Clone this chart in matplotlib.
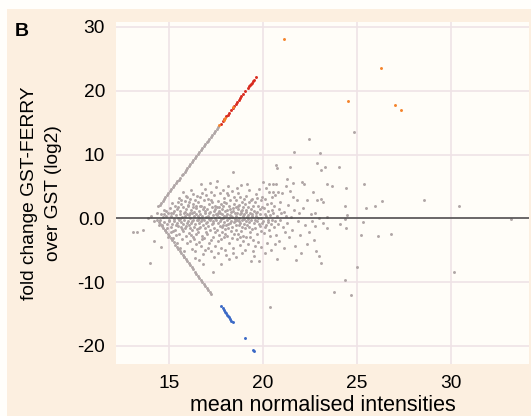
import numpy as np
import matplotlib
matplotlib.use('Agg')
import matplotlib.pyplot as plt
from matplotlib.patches import Rectangle

plt.rcParams['font.family'] = ['Liberation Sans', 'DejaVu Sans']

GREY = '#b0a6a6'
RED = '#d92b1f'
ORANGE = '#f5832b'
BLUE = '#3b69c6'
BEIGE = '#fcefe0'
PANEL = '#fffdf8'
GRID = '#efe3e6'

# ---- data: mean normalised intensity (x) vs log2 fold change (y) ----

# proteins seen only in GST-FERRY (upper diagonal)
up_line_x = [14.43, 14.50, 14.58, 14.66, 14.74, 14.81, 14.89, 14.97, 15.05, 15.12,
             15.20, 15.28, 15.36, 15.44, 15.51, 15.59, 15.67, 15.75, 15.83, 15.90,
             15.98, 16.06, 16.14, 16.22, 16.29, 16.37, 16.45, 16.53, 16.61, 16.68,
             16.76, 16.84, 16.92, 17.00, 17.07, 17.15, 17.23, 17.31, 17.39, 17.46,
             17.54, 17.62]
up_line_y = [1.87, 2.14, 2.46, 2.77, 3.08, 3.35, 3.66, 3.98, 4.29, 4.56,
             4.87, 5.19, 5.50, 5.81, 6.08, 6.39, 6.71, 7.02, 7.33, 7.60,
             7.92, 8.23, 8.54, 8.85, 9.12, 9.44, 9.75, 10.06, 10.37, 10.65,
             10.96, 11.27, 11.58, 11.89, 12.17, 12.48, 12.79, 13.10, 13.41, 13.69,
             14.00, 14.31]

# proteins seen only in GST (lower diagonal)
down_line_x = [14.38, 14.46, 14.54, 14.62, 14.70, 14.78, 14.86, 14.94, 15.02, 15.10,
               15.18, 15.26, 15.34, 15.42, 15.50, 15.58, 15.66, 15.74, 15.82, 15.90,
               15.98, 16.06, 16.14, 16.22, 16.30, 16.38, 16.46, 16.54, 16.62, 16.70,
               16.78, 16.86, 16.94, 17.02, 17.10, 17.18, 17.25]
down_line_y = [-0.20, -0.53, -0.85, -1.18, -1.51, -1.83, -2.16, -2.48, -2.81, -3.14,
               -3.46, -3.79, -4.12, -4.44, -4.77, -5.10, -5.42, -5.75, -6.08, -6.40,
               -6.73, -7.05, -7.38, -7.71, -8.03, -8.36, -8.69, -9.01, -9.34, -9.67,
               -9.99, -10.32, -10.64, -10.97, -11.30, -11.62, -11.91]

# significant hits
red_x = [17.75, 17.85, 17.95, 18.05, 18.12, 18.20, 18.30, 18.38, 18.48, 18.56,
         18.62, 18.70, 18.78, 18.85, 18.95, 19.05, 19.20, 19.26, 19.30, 19.35,
         19.40, 19.45, 19.50, 19.63]
red_y = [14.82, 15.21, 15.60, 15.99, 16.26, 16.57, 16.96, 17.28, 17.67, 17.98,
         18.21, 18.52, 18.84, 19.11, 19.50, 19.89, 20.47, 20.71, 20.86, 21.06,
         21.25, 21.45, 21.64, 22.15]
orange_x = [17.68, 17.90, 18.00, 18.42, 21.10, 26.26, 24.54, 27.04, 27.36]
orange_y = [14.55, 15.40, 15.79, 17.43, 28.10, 23.50, 18.40, 17.80, 17.00]
blue_x = [17.78, 17.86, 17.93, 18.00, 18.05, 18.10, 18.14, 18.20, 18.26, 18.32,
          18.38, 19.04, 19.45, 19.53]
blue_y = [-13.76, -14.10, -14.40, -14.65, -14.90, -15.10, -15.30, -15.55, -15.80, -16.05,
          -16.30, -18.80, -20.60, -20.85]

# proteins quantified in both pull-downs, grouped by intensity
cloud_13_15 = [(13.10, -2.2), (13.28, -2.2), (13.63, -1.9), (13.99, -7.05), (13.90, 0.05),
               (14.22, -3.5), (14.35, 0.8), (14.20, -0.4), (14.05, 0.3), (14.45, -1.0),
               (14.52, -0.3), (14.58, 0.6), (14.63, -1.1), (14.67, 0.2), (14.71, 1.3),
               (14.74, -0.6), (14.79, -1.9), (14.82, 1.2), (14.86, 0.4), (14.90, -0.9),
               (14.93, -3.0), (14.96, 0.9), (14.98, -0.2), (14.57, -4.5), (14.88, -1.5),
               (14.75, 0.7)]
cloud_15_16 = [(15.02, -0.5), (15.05, 1.6), (15.08, -1.4), (15.10, 0.3), (15.13, -2.2),
               (15.15, 2.4), (15.18, -0.9), (15.20, 0.8), (15.23, -3.1), (15.25, 1.1),
               (15.27, -0.1), (15.30, -1.8), (15.32, 2.0), (15.35, 0.5), (15.37, -2.6),
               (15.40, -0.7), (15.42, 1.5), (15.44, -3.9), (15.46, 0.1), (15.48, -1.2),
               (15.50, 1.7), (15.12, 0.9), (15.28, -0.4), (15.38, -1.0), (15.47, 2.6),
               (15.22, -2.0), (15.52, -0.3), (15.54, 3.2), (15.55, -2.4), (15.57, 0.6),
               (15.59, -4.6), (15.61, 1.2), (15.62, -1.3), (15.64, 2.3), (15.66, -0.6),
               (15.68, 0.2), (15.70, -3.3), (15.72, 1.8), (15.73, -0.9), (15.75, 4.1),
               (15.77, -2.0), (15.79, 0.9), (15.80, -5.2), (15.82, -0.2), (15.84, 2.7),
               (15.85, -1.6), (15.87, 0.4), (15.89, 3.5), (15.90, -2.8), (15.92, 1.4),
               (15.94, 3.4), (15.95, -0.8), (15.97, -3.9), (15.98, 0.7), (15.60, -0.1),
               (15.71, -1.7), (15.83, 1.0), (15.93, -1.2), (15.66, 2.9), (15.78, -6.0),
               (15.99, 2.1)]
cloud_16_17 = [(16.01, -0.4), (16.03, 1.9), (16.04, -2.3), (16.06, 0.5), (16.08, -1.1),
               (16.10, 3.0), (16.11, -3.6), (16.13, 0.1), (16.15, 1.3), (16.17, -0.7),
               (16.18, 4.4), (16.20, -1.9), (16.22, 0.8), (16.23, -4.8), (16.25, 2.2),
               (16.27, -0.2), (16.28, 3.8), (16.30, -2.9), (16.32, 1.0), (16.33, -1.4),
               (16.35, 0.3), (16.37, 2.8), (16.38, -5.1), (16.40, -0.9), (16.42, 1.6),
               (16.43, -2.5), (16.45, 0.6), (16.47, 3.5), (16.48, -0.3), (16.50, -1.7),
               (16.05, 2.6), (16.14, -1.5), (16.24, -0.5), (16.34, -3.3), (16.44, 2.0),
               (16.12, 0.9), (16.29, 1.7), (16.39, -6.2), (16.19, -2.6), (16.46, -4.0),
               (16.52, 0.4), (16.54, -2.1), (16.55, 2.5), (16.57, -0.8), (16.59, 1.2),
               (16.60, -3.7), (16.62, 0.0), (16.64, 3.3), (16.65, -1.3), (16.67, 0.7),
               (16.69, -4.4), (16.70, 1.9), (16.72, -0.5), (16.74, 4.0), (16.75, -2.7),
               (16.77, 0.3), (16.79, 1.5), (16.80, -5.66), (16.82, -1.0), (16.84, 2.9),
               (16.85, -0.2), (16.87, -3.1), (16.89, 0.9), (16.90, 4.6), (16.92, -1.6),
               (16.94, 1.1), (16.95, -2.2), (16.97, 0.2), (16.98, 3.7), (16.83, -7.2),
               (16.58, -1.5), (16.66, 2.0), (16.73, -3.2), (16.78, -0.1), (16.88, 1.8),
               (16.93, -4.9), (16.61, -6.5), (16.71, 5.3), (16.96, -0.7), (16.53, -0.3)]
cloud_17_18 = [(17.01, -0.6), (17.03, 1.4), (17.04, -2.5), (17.06, 0.3), (17.08, 3.1),
               (17.10, -1.2), (17.11, 0.8), (17.13, -3.8), (17.15, 2.2), (17.17, -0.3),
               (17.18, 1.0), (17.20, -1.8), (17.22, 4.2), (17.23, 0.1), (17.25, -5.1),
               (17.27, 1.7), (17.28, -0.9), (17.30, 2.6), (17.32, -2.9), (17.33, 0.5),
               (17.35, -0.4), (17.37, 3.6), (17.38, -1.5), (17.40, 1.2), (17.42, -4.3),
               (17.43, 0.0), (17.45, 2.0), (17.47, -2.1), (17.48, 0.7), (17.50, 4.9),
               (17.32, -8.5), (17.05, -4.6), (17.16, 5.6), (17.26, -3.4), (17.36, -0.8),
               (17.46, 1.5), (17.12, -0.1), (17.21, 2.8), (17.41, -6.0),
               (17.52, -0.3), (17.54, 1.8), (17.55, -1.9), (17.57, 0.5), (17.59, -3.5),
               (17.60, 2.7), (17.62, -0.7), (17.64, 1.1), (17.65, -2.6), (17.67, 0.2),
               (17.69, 3.9), (17.70, -1.2), (17.72, 0.9), (17.74, -4.7), (17.75, 2.3),
               (17.77, -0.1), (17.78, -7.2), (17.80, 1.5), (17.82, -2.2), (17.83, 0.6),
               (17.85, 4.5), (17.87, -1.0), (17.88, 2.0), (17.90, -3.0), (17.92, 0.3),
               (17.93, -0.6), (17.95, 3.2), (17.97, -1.7), (17.98, 1.2), (17.56, 5.8),
               (17.63, -5.5), (17.71, -0.4), (17.81, -1.4), (17.91, 2.6), (17.96, -5.0),
               (17.58, 0.9), (17.68, 1.7), (17.76, -3.2), (17.86, 0.0), (17.99, -2.4)]
cloud_18_19 = [(18.01, 0.4), (18.03, -1.1), (18.04, 2.4), (18.06, -0.3), (18.08, 1.3),
               (18.10, -2.8), (18.11, 0.7), (18.13, 3.6), (18.14, 5.1), (18.16, -1.6),
               (18.18, 0.0), (18.20, 1.9), (18.21, -3.9), (18.23, 0.5), (18.25, -0.8),
               (18.27, 2.9), (18.28, -2.0), (18.30, 1.0), (18.32, -0.4), (18.33, 4.3),
               (18.35, -1.3), (18.37, 0.2), (18.38, -4.6), (18.40, -5.4), (18.42, 7.2),
               (18.43, 1.6), (18.45, -0.6), (18.47, 2.3), (18.48, -2.5), (18.50, 0.8),
               (18.05, -5.8), (18.15, -0.9), (18.24, 1.4), (18.34, -3.1), (18.44, 3.3),
               (18.49, -0.1), (18.09, 4.0), (18.19, -6.4), (18.29, 0.3), (18.39, 1.1),
               (18.52, -0.5), (18.54, 1.7), (18.55, -1.8), (18.57, 0.3), (18.59, 2.8),
               (18.60, -3.3), (18.62, 0.9), (18.64, -0.2), (18.65, 1.4), (18.67, -2.4),
               (18.69, 4.0), (18.70, 0.1), (18.72, -1.0), (18.74, 2.1), (18.75, -4.2),
               (18.77, 0.6), (18.79, -0.7), (18.80, 3.4), (18.82, -2.0), (18.84, 1.1),
               (18.85, 5.2), (18.86, -5.4), (18.87, -0.3), (18.89, 2.5), (18.90, -1.4),
               (18.92, 0.4), (18.94, -3.6), (18.95, 1.8), (18.97, -0.9), (18.98, 3.0),
               (18.56, -6.1), (18.63, 4.7), (18.73, -0.4), (18.83, 0.8), (18.93, -2.7),
               (18.58, -1.1), (18.68, 2.0), (18.78, -3.0), (18.88, 1.3), (18.99, -0.1)]
cloud_19_20 = [(19.01, 0.6), (19.03, -1.5), (19.05, 2.2), (19.07, -0.4), (19.09, 1.0),
               (19.10, -2.9), (19.12, 3.5), (19.14, 0.2), (19.16, -1.0), (19.18, 1.7),
               (19.20, -4.0), (19.22, 0.5), (19.24, 4.4), (19.26, -0.6), (19.28, 2.6),
               (19.30, -2.2), (19.32, 0.9), (19.34, -0.2), (19.36, 1.4), (19.38, -6.7),
               (19.40, 3.1), (19.42, -1.7), (19.44, 0.3), (19.46, -3.4), (19.48, 2.0),
               (19.50, -0.8), (19.06, -5.0), (19.15, 5.4), (19.25, -1.3), (19.35, 2.9),
               (19.45, -5.2), (19.11, 1.3), (19.21, -0.1), (19.31, -3.0), (19.41, 0.7),
               (19.52, 1.2), (19.54, -5.9), (19.56, -0.3), (19.58, 2.5), (19.60, -1.6),
               (19.62, 0.4), (19.64, 3.8), (19.66, -2.5), (19.68, 1.0), (19.70, -0.5),
               (19.72, 2.0), (19.74, -3.7), (19.76, 0.1), (19.78, 4.6), (19.80, -6.7),
               (19.82, 1.5), (19.84, -1.2), (19.86, 0.6), (19.88, 2.9), (19.90, -2.0),
               (19.92, 0.0), (19.94, 1.8), (19.96, -0.8), (19.98, 5.65), (19.57, -4.3),
               (19.67, 3.2), (19.77, -0.9), (19.87, -4.5), (19.97, 3.4), (19.63, 0.9)]
cloud_20_22 = [(20.02, -0.4), (20.05, 1.6), (20.07, -2.3), (20.10, 0.7), (20.12, 3.0),
               (20.15, -1.0), (20.17, 0.3), (20.20, -3.8), (20.22, 2.2), (20.25, -0.2),
               (20.27, 1.1), (20.30, -1.8), (20.32, 4.1), (20.34, 5.35), (20.38, -13.9),
               (20.38, 0.5), (20.40, -0.9), (20.43, 2.4), (20.45, -4.9), (20.47, 1.3),
               (20.50, -0.3), (20.08, -5.5), (20.18, 4.8), (20.28, -0.6), (20.48, 3.3),
               (20.13, -1.4), (20.35, -2.7),
               (20.52, 5.35), (20.53, 4.2), (20.55, 0.9), (20.58, -1.4), (20.60, 2.0),
               (20.63, -0.5), (20.65, 3.6), (20.68, -2.6), (20.70, 8.35), (20.71, 5.35),
               (20.76, 7.9), (20.72, 0.3), (20.75, -6.45), (20.78, 4.1), (20.80, -0.9),
               (20.83, 1.5), (20.86, -3.5), (20.90, 2.6), (20.93, -0.2), (20.96, 0.8),
               (21.00, 3.9), (20.62, -4.0),
               (21.05, -1.3), (21.10, 1.0), (21.15, -2.2), (21.20, 5.0), (21.22, 0.4),
               (21.28, 6.2), (21.30, -0.7), (21.35, 2.1), (21.40, -3.0), (21.45, 8.0),
               (21.46, 4.3), (21.50, 0.2), (21.55, -1.9), (21.62, 5.6), (21.65, 10.4),
               (21.67, 1.3), (21.70, -4.4), (21.75, -6.5), (21.80, 2.8), (21.85, -0.4),
               (21.90, 0.9), (21.95, -2.6), (22.00, -5.4), (21.58, 3.3), (21.12, -4.6)]
cloud_22_34 = [(22.10, 5.75), (22.20, 5.4), (22.15, 1.6), (22.25, -1.0), (22.35, 2.9),
               (22.46, 12.5), (22.45, -2.1), (22.55, 0.6), (22.64, 4.2), (22.70, -3.4),
               (22.77, 0.9), (22.86, 8.6), (22.86, 2.8), (22.80, -5.15), (22.98, -5.9),
               (22.98, 0.05), (22.60, -0.5), (22.35, -4.0), (23.05, 10.2), (23.30, 8.1),
               (23.10, 7.5), (24.06, 8.1), (23.07, 2.95), (23.20, 2.5), (23.40, 5.45),
               (23.65, 5.1), (24.40, 4.7), (25.37, 5.4), (26.33, 2.7), (28.56, 2.85),
               (30.43, 2.0), (25.96, 1.9), (25.48, 1.55), (24.35, 1.9), (24.47, 0.5),
               (23.40, 0.15), (24.36, -0.05), (23.17, -0.8), (23.40, -1.6), (24.10, -0.95),
               (24.40, -1.6), (25.30, -0.6), (25.20, -2.65), (26.10, -2.8), (26.80, -2.45),
               (23.07, -7.0), (24.98, -7.6), (30.16, -8.4), (24.36, -9.6), (23.78, -11.5),
               (24.66, -12.1), (24.85, 13.55), (33.20, -0.05), (22.76, -1.2)]

x_ticks = [15, 20, 25, 30]
y_ticks = [-20, -10, 0, 10, 20, 30]
y_tick_labels = ['-20', '-10', '0.0', '10', '20', '30']

# ---- figure ----
fig = plt.figure(figsize=(5.31, 4.16), dpi=100, facecolor='#fffefb')
fig.patches.append(Rectangle((7 / 531, 0), 1 - 7 / 531, 1 - 9 / 416,
                             transform=fig.transFigure, facecolor=BEIGE,
                             edgecolor='none', zorder=-10))

ax = fig.add_axes([116 / 531, 52 / 416, 413 / 531, 342 / 416])
ax.set_facecolor(PANEL)
for s in ax.spines.values():
    s.set_visible(False)

cloud = np.array(cloud_13_15 + cloud_15_16 + cloud_16_17 + cloud_17_18 +
                 cloud_18_19 + cloud_19_20 + cloud_20_22 + cloud_22_34)

kw = dict(s=4.5, linewidths=0, zorder=2)
ax.scatter(cloud[:, 0], cloud[:, 1], color=GREY, **kw)
ax.scatter(up_line_x, up_line_y, color=GREY, **kw)
ax.scatter(down_line_x, down_line_y, color=GREY, **kw)
ax.scatter(red_x, red_y, color=RED, **kw)
ax.scatter(orange_x, orange_y, color=ORANGE, **kw)
ax.scatter(blue_x, blue_y, color=BLUE, **kw)

ax.axhline(0, color='#454545', linewidth=1.1, zorder=3)

ax.set_xlim(12.18, 34.15)
ax.set_ylim(-22.85, 30.78)
ax.set_xticks(x_ticks)
ax.set_yticks(y_ticks)
ax.set_yticklabels(y_tick_labels)
ax.grid(True, color=GRID, linewidth=1.2, zorder=0)
ax.set_axisbelow(True)
ax.tick_params(length=0, labelsize=13.8, pad=8, colors='black')

ax.set_xlabel('mean normalised intensities', fontsize=15.5, labelpad=2)
ax.set_ylabel('fold change GST-FERRY\nover GST (log2)', fontsize=13.8,
              linespacing=1.55, labelpad=11)

fig.text(15 / 531, 1 - 36 / 416, 'B', fontsize=14, fontweight='bold')

fig.savefig('out.png', dpi=100, facecolor=fig.get_facecolor())
